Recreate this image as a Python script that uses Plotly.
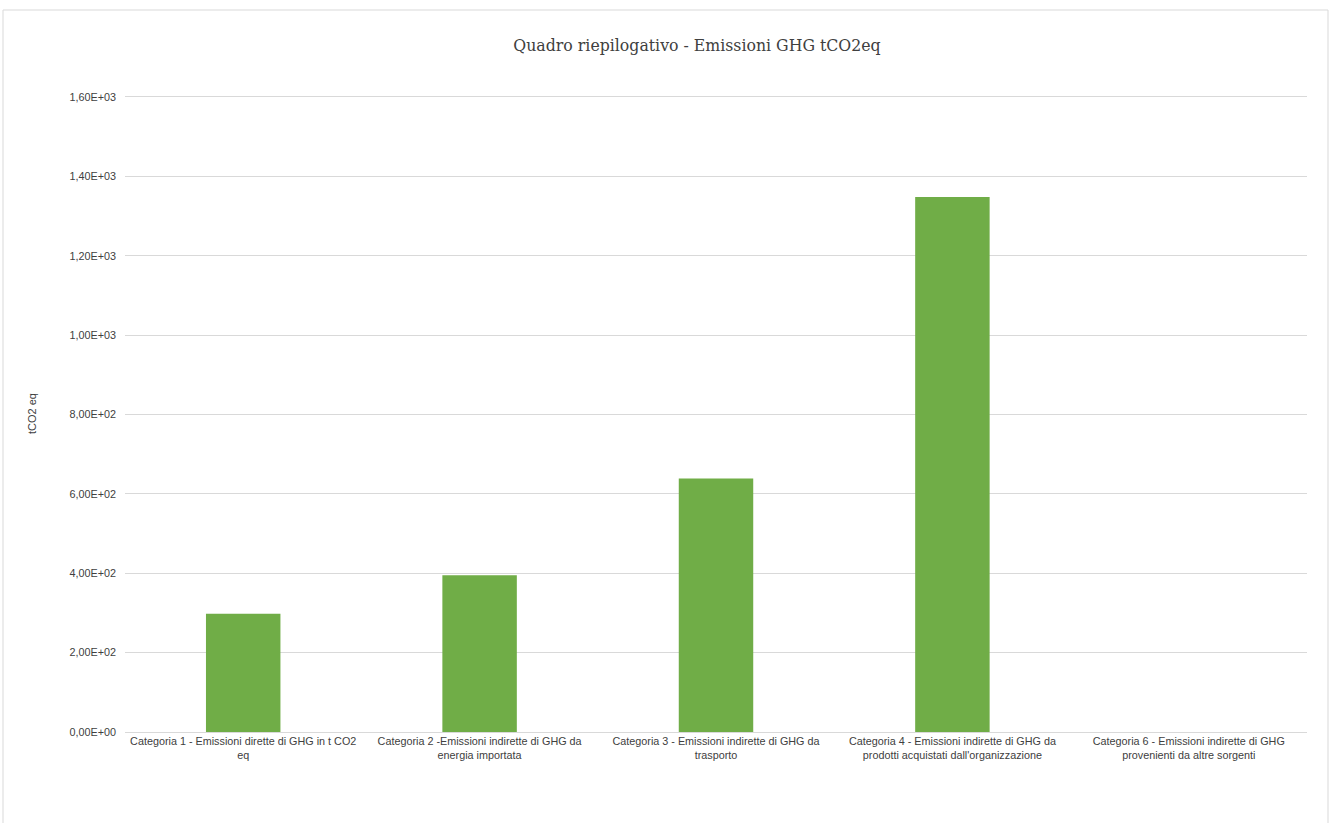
import plotly.graph_objects as go

categories = [
    "Categoria 1 - Emissioni dirette di GHG in t CO2<br>eq",
    "Categoria 2 -Emissioni indirette di GHG da<br>energia importata",
    "Categoria 3 - Emissioni indirette di GHG da<br>trasporto",
    "Categoria 4 - Emissioni indirette di GHG da<br>prodotti acquistati dall'organizzazione",
    "Categoria 6 - Emissioni indirette di GHG<br>provenienti da altre sorgenti",
]
values = [298, 395, 639, 1348, 0]
tick_vals = [0, 200, 400, 600, 800, 1000, 1200, 1400, 1600]
tick_text = ["0,00E+00", "2,00E+02", "4,00E+02", "6,00E+02", "8,00E+02",
             "1,00E+03", "1,20E+03", "1,40E+03", "1,60E+03"]

W, H = 1335, 823
L, R, T, B = 125, 28, 95, 91
pw, ph = W - L - R, H - T - B

fig = go.Figure(go.Bar(x=categories, y=values, marker_color="#70AD47",
                       marker_line_width=0, width=0.315))

fig.update_layout(
    width=W, height=H,
    margin=dict(l=L, r=R, t=T, b=B),
    paper_bgcolor="white", plot_bgcolor="white",
    showlegend=False,
    title=dict(text="Quadro riepilogativo - Emissioni GHG tCO2eq",
               x=697 / W, xanchor="center",
               y=1 - 45 / H, yanchor="middle",
               font=dict(family="DejaVu Serif Condensed", size=17.5, color="#404040")),
    font=dict(family="Liberation Sans, Arial", size=10, color="#404040"),
    bargap=0.685,
)
fig.update_yaxes(range=[0, 1605], tickvals=tick_vals, ticktext=tick_text,
                 showgrid=True, gridcolor="#d9d9d9", gridwidth=1,
                 zeroline=True, zerolinecolor="#d9d9d9", zerolinewidth=1,
                 showline=False, ticks="", ticklabelstandoff=8,
                 tickfont=dict(size=10.8, color="#404040"),
                 title=dict(text="tCO2 eq", standoff=30,
                            font=dict(size=11, color="#404040")))
fig.update_xaxes(showgrid=False, showline=False, ticks="",
                 tickfont=dict(size=10.8, color="#404040"), tickangle=0,
                 ticklabelstandoff=1)

# outer chart frame
fig.add_shape(type="rect", xref="paper", yref="paper",
              x0=(3 - L) / pw, x1=(1328 - L) / pw,
              y0=-(835 - (T + ph)) / ph, y1=1 + (T - 10) / ph,
              line=dict(color="#d9d9d9", width=1), fillcolor="rgba(0,0,0,0)",
              layer="below")

fig.write_html("out.html")
